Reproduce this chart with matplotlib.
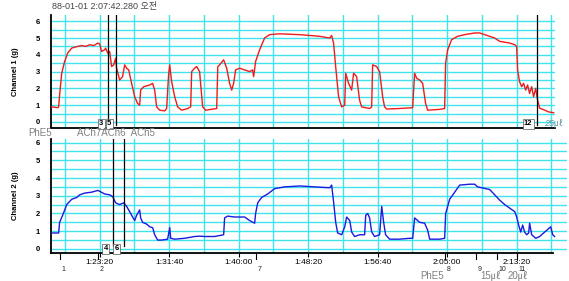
import matplotlib
matplotlib.use('Agg')
import numpy as np
import matplotlib.pyplot as plt
from matplotlib.ticker import FuncFormatter
from matplotlib.transforms import blended_transform_factory

plt.rcParams['font.family'] = ['Liberation Sans', 'Noto Sans CJK KR']

# time in seconds after midnight, force in g
ch1_t = [4655, 4700, 4705, 4712, 4727, 4748, 4770, 4799, 4842, 4870, 4900, 4928, 4960, 4986, 5000,
         5014, 5036, 5043, 5058, 5072, 5086, 5101, 5115, 5122, 5144, 5165, 5180, 5194, 5209, 5230,
         5252, 5273, 5288, 5295, 5317, 5360, 5381, 5396, 5410, 5432, 5468, 5482, 5496, 5504, 5518,
         5540, 5561, 5590, 5633, 5655, 5662, 5683, 5698, 5719, 5741, 5763, 5800, 5842, 5850, 5863,
         5892, 5914, 5935, 5950, 5964, 5978, 6007, 6043, 6079, 6100, 6108, 6122, 6151, 6187, 6223,
         6295, 6439, 6511, 6583, 6655, 6669, 6683, 6698, 6719, 6741, 6763, 6770, 6791, 6813, 6827,
         6849, 6870, 6885, 6942, 6957, 6964, 6993, 7014, 7036, 7050, 7065, 7158, 7252, 7266, 7281,
         7302, 7324, 7345, 7360, 7446, 7482, 7489, 7504, 7532, 7575, 7626, 7698, 7734, 7770, 7806,
         7842, 7878, 7950, 7986, 8000, 8007, 8021, 8036, 8050, 8065, 8079, 8093, 8108, 8122, 8137,
         8151, 8165, 8201, 8230, 8266]
ch1_v = [0.9, 0.85, 0.9, 1.6, 2.9, 3.6, 4.1, 4.4, 4.5, 4.55, 4.5, 4.6, 4.55, 4.7, 4.65,
         4.2, 4.3, 4.4, 4.1, 4.2, 3.3, 3.4, 3.8, 3.2, 2.5, 2.7, 3.4, 3.2, 3.1, 2.3,
         1.5, 1.1, 1.0, 1.9, 2.1, 2.2, 2.3, 1.9, 0.9, 0.7, 0.66, 0.8, 2.8, 3.4, 2.4,
         1.5, 0.9, 0.7, 0.8, 0.9, 3.0, 3.2, 3.3, 3.0, 0.9, 0.7, 0.75, 0.8, 3.3, 3.4,
         3.7, 3.2, 2.3, 1.9, 2.3, 3.1, 3.2, 3.1, 3.0, 3.1, 2.7, 3.6, 4.3, 5.0, 5.2,
         5.25, 5.2, 5.15, 5.1, 5.0, 5.15, 4.7, 3.3, 1.5, 0.9, 1.0, 2.9, 2.3, 1.9, 2.9,
         2.7, 1.3, 0.9, 0.8, 0.9, 3.4, 3.3, 3.0, 1.5, 0.9, 0.77, 0.8, 0.85, 2.9, 2.6,
         2.5, 2.3, 1.1, 0.7, 0.75, 0.8, 3.5, 4.3, 4.9, 5.1, 5.2, 5.3, 5.3, 5.2, 5.1,
         5.0, 4.8, 4.7, 4.6, 4.5, 3.1, 2.4, 2.1, 2.3, 1.9, 2.2, 1.7, 2.1, 1.5, 2.0,
         1.3, 0.83, 0.7, 0.6, 0.55]

ch2_t = [4655, 4705, 4712, 4734, 4763, 4799, 4835, 4856, 4892, 4942, 4986, 5000, 5036, 5072, 5094,
         5115, 5144, 5173, 5194, 5216, 5237, 5252, 5266, 5288, 5295, 5309, 5338, 5360, 5381, 5396,
         5417, 5446, 5489, 5504, 5511, 5540, 5611, 5683, 5719, 5755, 5827, 5892, 5899, 5921, 5971,
         6043, 6079, 6115, 6122, 6137, 6165, 6209, 6259, 6331, 6439, 6547, 6655, 6669, 6683, 6698,
         6712, 6741, 6763, 6777, 6799, 6813, 6834, 6870, 6906, 6914, 6928, 6942, 6957, 6978, 7014,
         7029, 7043, 7057, 7086, 7158, 7230, 7252, 7266, 7302, 7338, 7360, 7374, 7446, 7482, 7489,
         7518, 7554, 7590, 7662, 7698, 7719, 7748, 7806, 7842, 7878, 7914, 7950, 7986, 8000, 8014,
         8029, 8043, 8057, 8072, 8086, 8093, 8108, 8137, 8165, 8245, 8259, 8273]
ch2_v = [0.9, 0.9, 1.5, 1.9, 2.5, 2.8, 2.9, 3.05, 3.15, 3.2, 3.3, 3.25, 3.1, 3.05, 2.95,
         2.6, 2.5, 2.6, 2.4, 2.1, 1.8, 1.6, 1.9, 2.2, 1.75, 1.5, 1.4, 1.25, 1.2, 0.8,
         0.5, 0.5, 0.55, 1.2, 0.6, 0.55, 0.6, 0.7, 0.72, 0.7, 0.7, 0.8, 1.75, 1.85, 1.8,
         1.8, 1.6, 1.45, 2.0, 2.6, 2.9, 3.1, 3.4, 3.5, 3.55, 3.5, 3.45, 3.6, 2.65, 1.5,
         0.9, 0.8, 1.25, 1.8, 1.6, 0.95, 0.7, 0.8, 0.8, 1.9, 2.0, 1.75, 0.95, 0.7, 0.8,
         2.4, 1.5, 0.8, 0.55, 0.55, 0.6, 0.6, 1.75, 1.5, 1.45, 1.05, 0.55, 0.55, 0.6, 2.0,
         2.8, 3.2, 3.6, 3.65, 3.65, 3.5, 3.45, 3.35, 3.05, 2.75, 2.5, 2.3, 2.1, 1.8, 1.35,
         0.95, 1.35, 0.95, 0.8, 0.9, 1.45, 0.8, 0.6, 0.7, 1.25, 0.8, 0.7]

ch1_marks = [5058, 5115, 8144]
ch1_mark_labels = ['3', '5', '12']
ch2_marks = [5094, 5173]
ch2_mark_labels = ['4', '6']
event_t = [4712, 4986, 6122, 7482, 7705, 7856, 8000]
event_labels = ['1', '2', '7', '8', '9', '10', '11']

time_ticks = [5000, 5500, 6000, 6500, 7000, 7500, 8000]
grid_t = np.arange(4750, 8300, 250)
grid_v = np.arange(0, 6.01, 0.5)

GRID = '#3fe3ee'
GREY = '#808080'


def hms(t, pos=None):
    t = int(round(t))
    return f"{t // 3600}:{(t % 3600) // 60:02d}:{t % 60:02d}"


def setup(ax, x1, ylo, yhi):
    ax.set_xlim(4650, x1)
    ax.set_ylim(ylo, yhi)
    for g in grid_t:
        ax.axvline(g, color=GRID, lw=1.0, zorder=0)
    for g in grid_v:
        ax.axhline(g, color=GRID, lw=1.0, zorder=0)
    ax.spines['top'].set_visible(False)
    ax.spines['right'].set_visible(False)
    ax.spines['left'].set_linewidth(1.3)
    ax.spines['bottom'].set_linewidth(1.3)
    ax.set_yticks(range(7))
    ax.tick_params(axis='y', length=0, labelsize=5.5, pad=8)
    for lb in ax.get_yticklabels():
        lb.set_fontweight('bold')


fig = plt.figure(figsize=(5.69, 2.81), dpi=100)

W, H = 569, 281
ax1 = fig.add_axes([51 / W, 1 - 128 / H, 504 / W, 113 / H])
ax2 = fig.add_axes([51 / W, 1 - 253 / H, 516 / W, 114 / H])

setup(ax1, 8276, -0.36, 6.37)
setup(ax2, 8362, -0.23, 6.2)
ax2.spines['bottom'].set_bounds(4650, 8262)

ax1.plot(ch1_t, ch1_v, color='#ee1c1c', lw=1.0, zorder=3)
ax2.plot(ch2_t, ch2_v, color='#1a1ae0', lw=1.0, zorder=3)

ax1.set_xticks([])
ax2.set_xticks(time_ticks)
ax2.xaxis.set_major_formatter(FuncFormatter(hms))
ax2.tick_params(axis='x', length=3, width=0.8, labelsize=6, pad=1)

ax1.set_ylabel('Channel 1 (g)', fontsize=5.5, fontweight='bold', labelpad=12)
ax2.set_ylabel('Channel 2 (g)', fontsize=5.5, fontweight='bold', labelpad=12)

box = dict(boxstyle='square,pad=0.15', fc='white', ec='#555555', lw=0.5)

tr1 = blended_transform_factory(ax1.transData, ax1.transAxes)
for t, lab in zip(ch1_marks, ch1_mark_labels):
    ax1.plot([t, t], [0.03, 1], transform=tr1, color='black', lw=0.9, zorder=4)
    ax1.text(t - 30, 0.005, lab, transform=tr1, fontsize=5.5, fontweight='bold',
             ha='right', va='bottom', bbox=box, zorder=5)
ax1.text(8200, 0.005, '25㎕', transform=tr1, fontsize=6.5, color='#6a97a6',
         ha='left', va='bottom', style='italic', zorder=5)

tr2 = blended_transform_factory(ax2.transData, ax2.transAxes)
for t, lab in zip(ch2_marks, ch2_mark_labels):
    ax2.plot([t, t], [0.06, 1], transform=tr2, color='black', lw=0.9, zorder=4)
    ax2.text(t - 35, 0.005, lab, transform=tr2, fontsize=5.5, fontweight='bold',
             ha='right', va='bottom', bbox=box, zorder=5)

for t, lab in zip(event_t, event_labels):
    ax2.plot([t, t], [0, -0.05], transform=tr2, color='black', lw=0.8, clip_on=False)
    ax2.text(t + 15, -0.11, lab, transform=tr2, fontsize=5, ha='left', va='top',
             color='#222222', clip_on=False)

fig.text(52 / W, 1 - 7 / H, '88-01-01 2:07:42.280 오전', fontsize=6.5, color='#444444',
         ha='left', va='center')
fig.text(28 / W, 1 - 133 / H, 'PhE5', fontsize=7, color=GREY, ha='left', va='center')
fig.text(77 / W, 1 - 133 / H, 'ACh7ACh6  ACh5', fontsize=7, color=GREY, ha='left', va='center')
fig.text(420 / W, 1 - 276 / H, 'PhE5', fontsize=7, color=GREY, ha='left', va='center')
fig.text(480 / W, 1 - 276 / H, '15㎕', fontsize=7, color=GREY, ha='left', va='center')
fig.text(508 / W, 1 - 276 / H, '20㎕', fontsize=7, color=GREY, ha='left', va='center')

fig.savefig('out.png', dpi=100)
